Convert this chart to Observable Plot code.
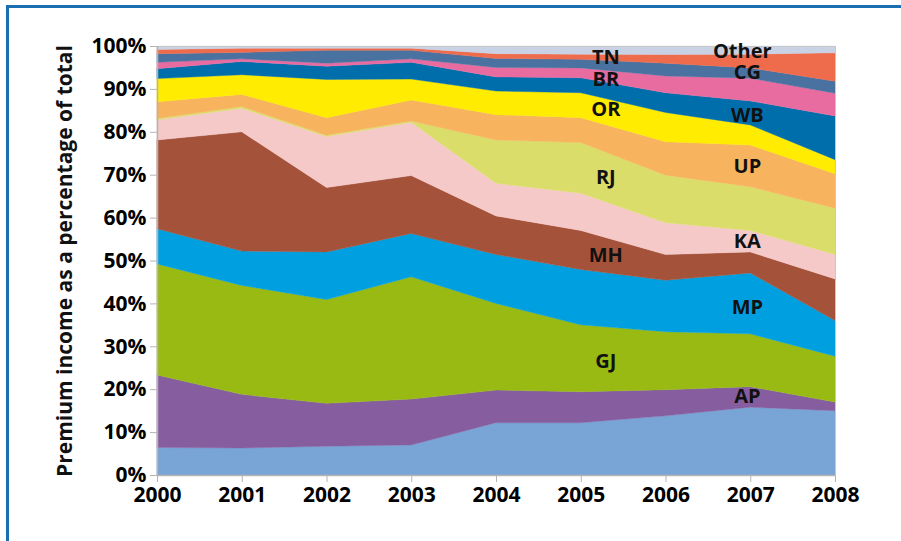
<!DOCTYPE html>
<html>
<head>
<meta charset="utf-8">
<script src="https://cdn.jsdelivr.net/npm/d3@7"></script>
<script src="https://cdn.jsdelivr.net/npm/@observablehq/plot@0.6"></script>
<style>
  body { margin: 0; background: #fff; font-family: "Open Sans", sans-serif; }
  #wrap { position: relative; width: 901px; height: 541px; overflow: hidden; }
  #frame { position: absolute; left: 6px; top: 5px; width: 1000px; height: 1000px;
           border-top: 3px solid #1a6fb2; border-left: 3px solid #1a6fb2; pointer-events: none; }
  #wrap svg { position: absolute; left: 0; top: 0; }
</style>
</head>
<body>
<div id="wrap"><div id="frame"></div></div>
<script>
// ---- Data (percent of total premium income) ----
const years = [2000, 2001, 2002, 2003, 2004, 2005, 2006, 2007, 2008];
const states = ["Unlabelled", "AP", "GJ", "MP", "MH", "KA", "RJ", "UP", "OR", "WB", "BR", "CG", "TN", "Other"];
const stateColors = ["#78a5d6", "#865ea0", "#98ba12", "#009fdf", "#a5523b", "#f6c9c9", "#dbdd6b",
                     "#f7b35e", "#ffec00", "#006eab", "#e96ca1", "#4a72a1", "#ee6b4b", "#c9d1e4"];

const shareUnlabelled = [6.4, 6.3, 6.7, 7.0, 12.2, 12.2, 13.8, 15.8, 15.0];
const shareAP    = [16.9, 12.5, 10.0, 10.7, 7.6, 7.2, 6.1, 4.8, 2.0];
const shareGJ    = [25.9, 25.4, 24.2, 28.5, 20.2, 15.6, 13.5, 12.3, 10.7];
const shareMP    = [8.2, 8.0, 11.1, 10.1, 11.4, 12.9, 12.0, 14.2, 8.3];
const shareMH    = [20.7, 27.8, 15.0, 13.5, 9.0, 9.1, 6.0, 4.9, 9.7];
const shareKA    = [4.7, 5.5, 11.9, 12.4, 7.6, 8.7, 7.4, 5.0, 5.7];
const shareRJ    = [0.3, 0.4, 0.3, 0.3, 10.1, 11.8, 11.1, 10.2, 10.8];
const shareUP    = [3.9, 2.8, 4.1, 4.9, 5.9, 5.8, 7.8, 9.7, 8.0];
const shareOR    = [5.4, 4.6, 8.9, 4.9, 5.5, 5.8, 6.8, 4.7, 3.3];
const shareWB    = [2.3, 3.1, 3.1, 3.9, 3.3, 3.5, 4.6, 5.6, 10.2];
const shareBR    = [1.5, 0.6, 0.7, 0.8, 2.2, 2.3, 3.9, 5.3, 5.3];
const shareCG    = [2.0, 1.5, 3.0, 2.0, 2.1, 2.0, 3.0, 2.4, 2.8];
const shareTN    = [1.0, 1.0, 0.5, 0.5, 1.1, 1.2, 2.0, 3.2, 6.6];
const shareOther = [0.8, 0.5, 0.5, 0.5, 1.8, 1.9, 2.0, 1.9, 1.6];

const yTicks = [0, 10, 20, 30, 40, 50, 60, 70, 80, 90, 100];
const yTitle = "Premium income as a percentage of total";

// In-chart labels: name, year position, percent position
const labelNames = ["AP", "GJ", "MP", "MH", "KA", "RJ", "UP", "OR", "WB", "BR", "CG", "TN", "Other"];
const labelX = [2006.96, 2005.29, 2006.96, 2005.29, 2006.96, 2005.29, 2006.96, 2005.29, 2006.96, 2005.29, 2006.96, 2005.29, 2006.9];
const labelY = [18.4, 26.5, 39.1, 51.2, 54.5, 69.4, 71.9, 85.2, 84.0, 92.3, 93.9, 97.4, 98.9];

// ---- Build long table ----
const seriesValues = [shareUnlabelled, shareAP, shareGJ, shareMP, shareMH, shareKA, shareRJ,
                      shareUP, shareOR, shareWB, shareBR, shareCG, shareTN, shareOther];
const table = [];
states.forEach((s, si) => {
  years.forEach((yr, yi) => table.push({state: s, year: yr, share: seriesValues[si][yi]}));
});
const labels = labelNames.map((n, i) => ({name: n, x: labelX[i], y: labelY[i]}));

const axisGrey = "#b4b4b4";

const chart = Plot.plot({
  width: 901,
  height: 541,
  marginLeft: 157,
  marginRight: 66,
  marginTop: 46,
  marginBottom: 66,
  style: {fontFamily: "'Open Sans', sans-serif", fontSize: "21px", background: "transparent", color: "#000"},
  x: {domain: [2000, 2008]},
  y: {domain: [0, 100]},
  color: {domain: states, range: stateColors},
  marks: [
    Plot.areaY(table, {x: "year", y: "share", z: "state", fill: "state", stroke: "state", strokeWidth: 0.4}),
    Plot.frame({stroke: "#c8c8c8"}),
    Plot.ruleX([2000], {stroke: axisGrey, strokeWidth: 1.5}),
    Plot.ruleY([0], {stroke: axisGrey, strokeWidth: 1.5}),
    Plot.axisX({ticks: years, tickFormat: d => String(d), tickSize: 7, tickPadding: 5,
                stroke: axisGrey, fill: "#000", fontWeight: 700, fontSize: 21, label: null}),
    Plot.axisY({ticks: yTicks, tickFormat: d => d + "%", tickSize: 7, tickPadding: 4,
                stroke: axisGrey, fill: "#000", fontWeight: 700, fontSize: 21, label: null}),
    Plot.axisY({ticks: [], tickSize: 0, label: yTitle, labelAnchor: "center", labelArrow: "none",
                labelOffset: 100, fill: "#111", fontWeight: 700, fontSize: 21}),
    Plot.text(labels, {x: "x", y: "y", text: "name", fill: "#111", fontWeight: 700, fontSize: 20})
  ]
});

document.getElementById("wrap").insertBefore(chart, document.getElementById("frame"));
</script>
</body>
</html>
